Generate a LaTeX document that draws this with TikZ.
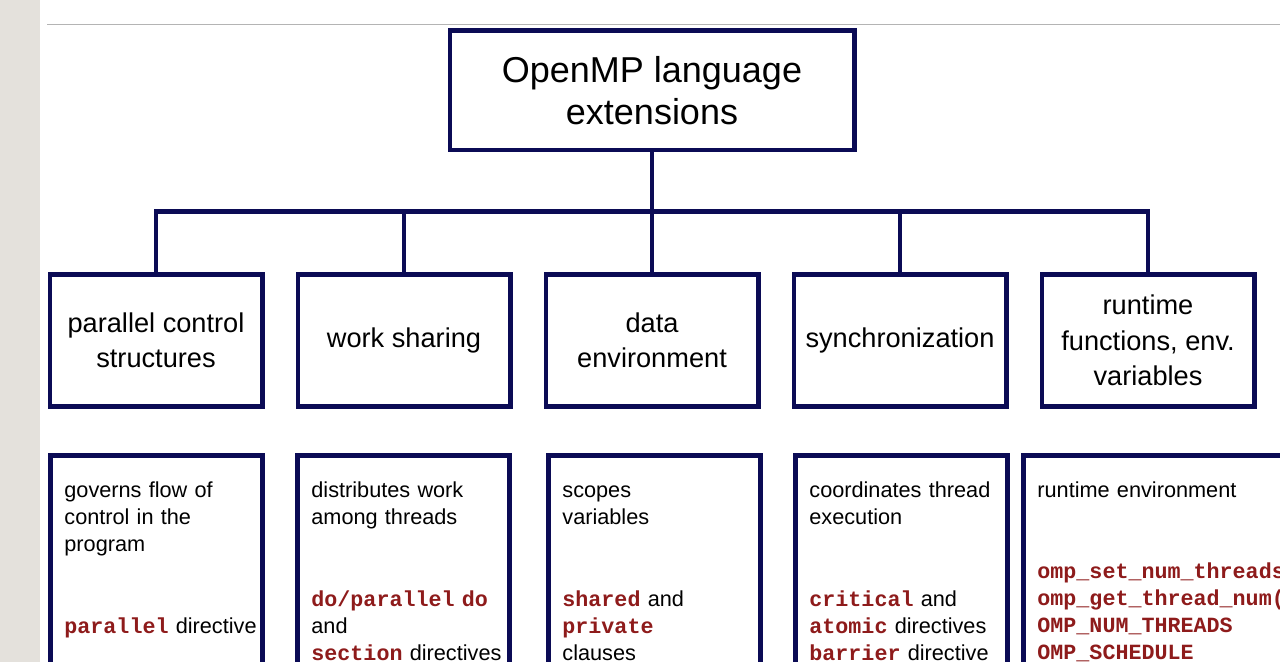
\documentclass[tikz,border=0pt]{standalone}
\usepackage{fontspec}
\setmainfont{Liberation Sans}
\setmonofont{Liberation Mono}
\definecolor{navy}{HTML}{0B0B55}
\definecolor{ompred}{HTML}{8E1B1B}
\definecolor{panelgrey}{HTML}{E4E1DC}
\definecolor{rulegrey}{HTML}{B4B4B4}
\newcommand{\kw}[1]{\textcolor{ompred}{\ttfamily\bfseries #1}}
\tikzset{
  box/.style={draw=navy, line width=2.4pt, outer sep=0pt, align=center},
  headbox/.style={box, minimum width=202.1pt, minimum height=59.6pt,
    font=\fontsize{18}{21}\selectfont},
  groupbox/.style={box, minimum width=106.1pt, minimum height=66.1pt,
    font=\fontsize{13.6}{17.75}\selectfont},
  notebox/.style={box, anchor=north west, align=left, text width=92.1pt,
    inner xsep=7pt, inner ysep=11.4pt, text depth=150pt,
    font=\fontsize{10.85}{13.6}\selectfont, execute at begin node=\strut},
  wire/.style={draw=navy, line width=2.3pt}
}
\begin{document}
\begin{tikzpicture}[x=0.5pt, y=-0.5pt]
  \useasboundingbox (0,0) rectangle (1280,662);
  \fill[panelgrey] (0,0) rectangle (39.5,662);
  \draw[rulegrey, line width=0.8pt] (47,24.5) -- (1280,24.5);

  \node[headbox] (omp) at (652,90.5) {OpenMP language\\ extensions};
  \coordinate (bus) at (652,211.5);

  \node[groupbox] (ctl) at (156,340.5) {parallel control\\ structures};
  \node[groupbox] (work) at (404,340.5) {work sharing};
  \node[groupbox] (data) at (652,340.5) {data\\ environment};
  \node[groupbox] (sync) at (900,340.5) {synchronization};
  \node[groupbox] (rt) at (1148,340.5) {runtime\\ functions, env.\\ variables};

  \node[notebox] (ctlnote) at (50.4,455.4)
    {governs flow of\\ control in the\\ program\\[27.2pt]
     \mbox{\kw{parallel} directive}};
  \node[notebox] (worknote) at (297.4,455.4)
    {distributes work\\ among threads\\[27.2pt]
     \mbox{\kw{do/parallel do}}\\ and\\ \mbox{\kw{section} directives}};
  \node[notebox] (datanote) at (548.4,455.4)
    {scopes\\ variables\\[27.2pt]
     \kw{shared} and\\ \kw{private}\\ clauses};
  \node[notebox] (syncnote) at (795.4,455.4)
    {coordinates thread\\ execution\\[27.2pt]
     \kw{critical} and\\ \mbox{\kw{atomic} directives}\\ \mbox{\kw{barrier} directive}};
  \node[notebox, text width=150pt] (rtnote) at (1023.4,455.4)
    {runtime environment\\[26.8pt]
     \kw{omp\_set\_num\_threads()}\\ \kw{omp\_get\_thread\_num()}\\
     \kw{OMP\_NUM\_THREADS}\\ \kw{OMP\_SCHEDULE}};

  \begin{scope}[wire]
    \draw (omp) -- (bus);
    \draw (ctl.north) |- (bus) -| (rt.north);
    \foreach \n in {work,data,sync}
      \draw (\n.north) -- (\n.north |- bus);
  \end{scope}
\end{tikzpicture}
\end{document}
